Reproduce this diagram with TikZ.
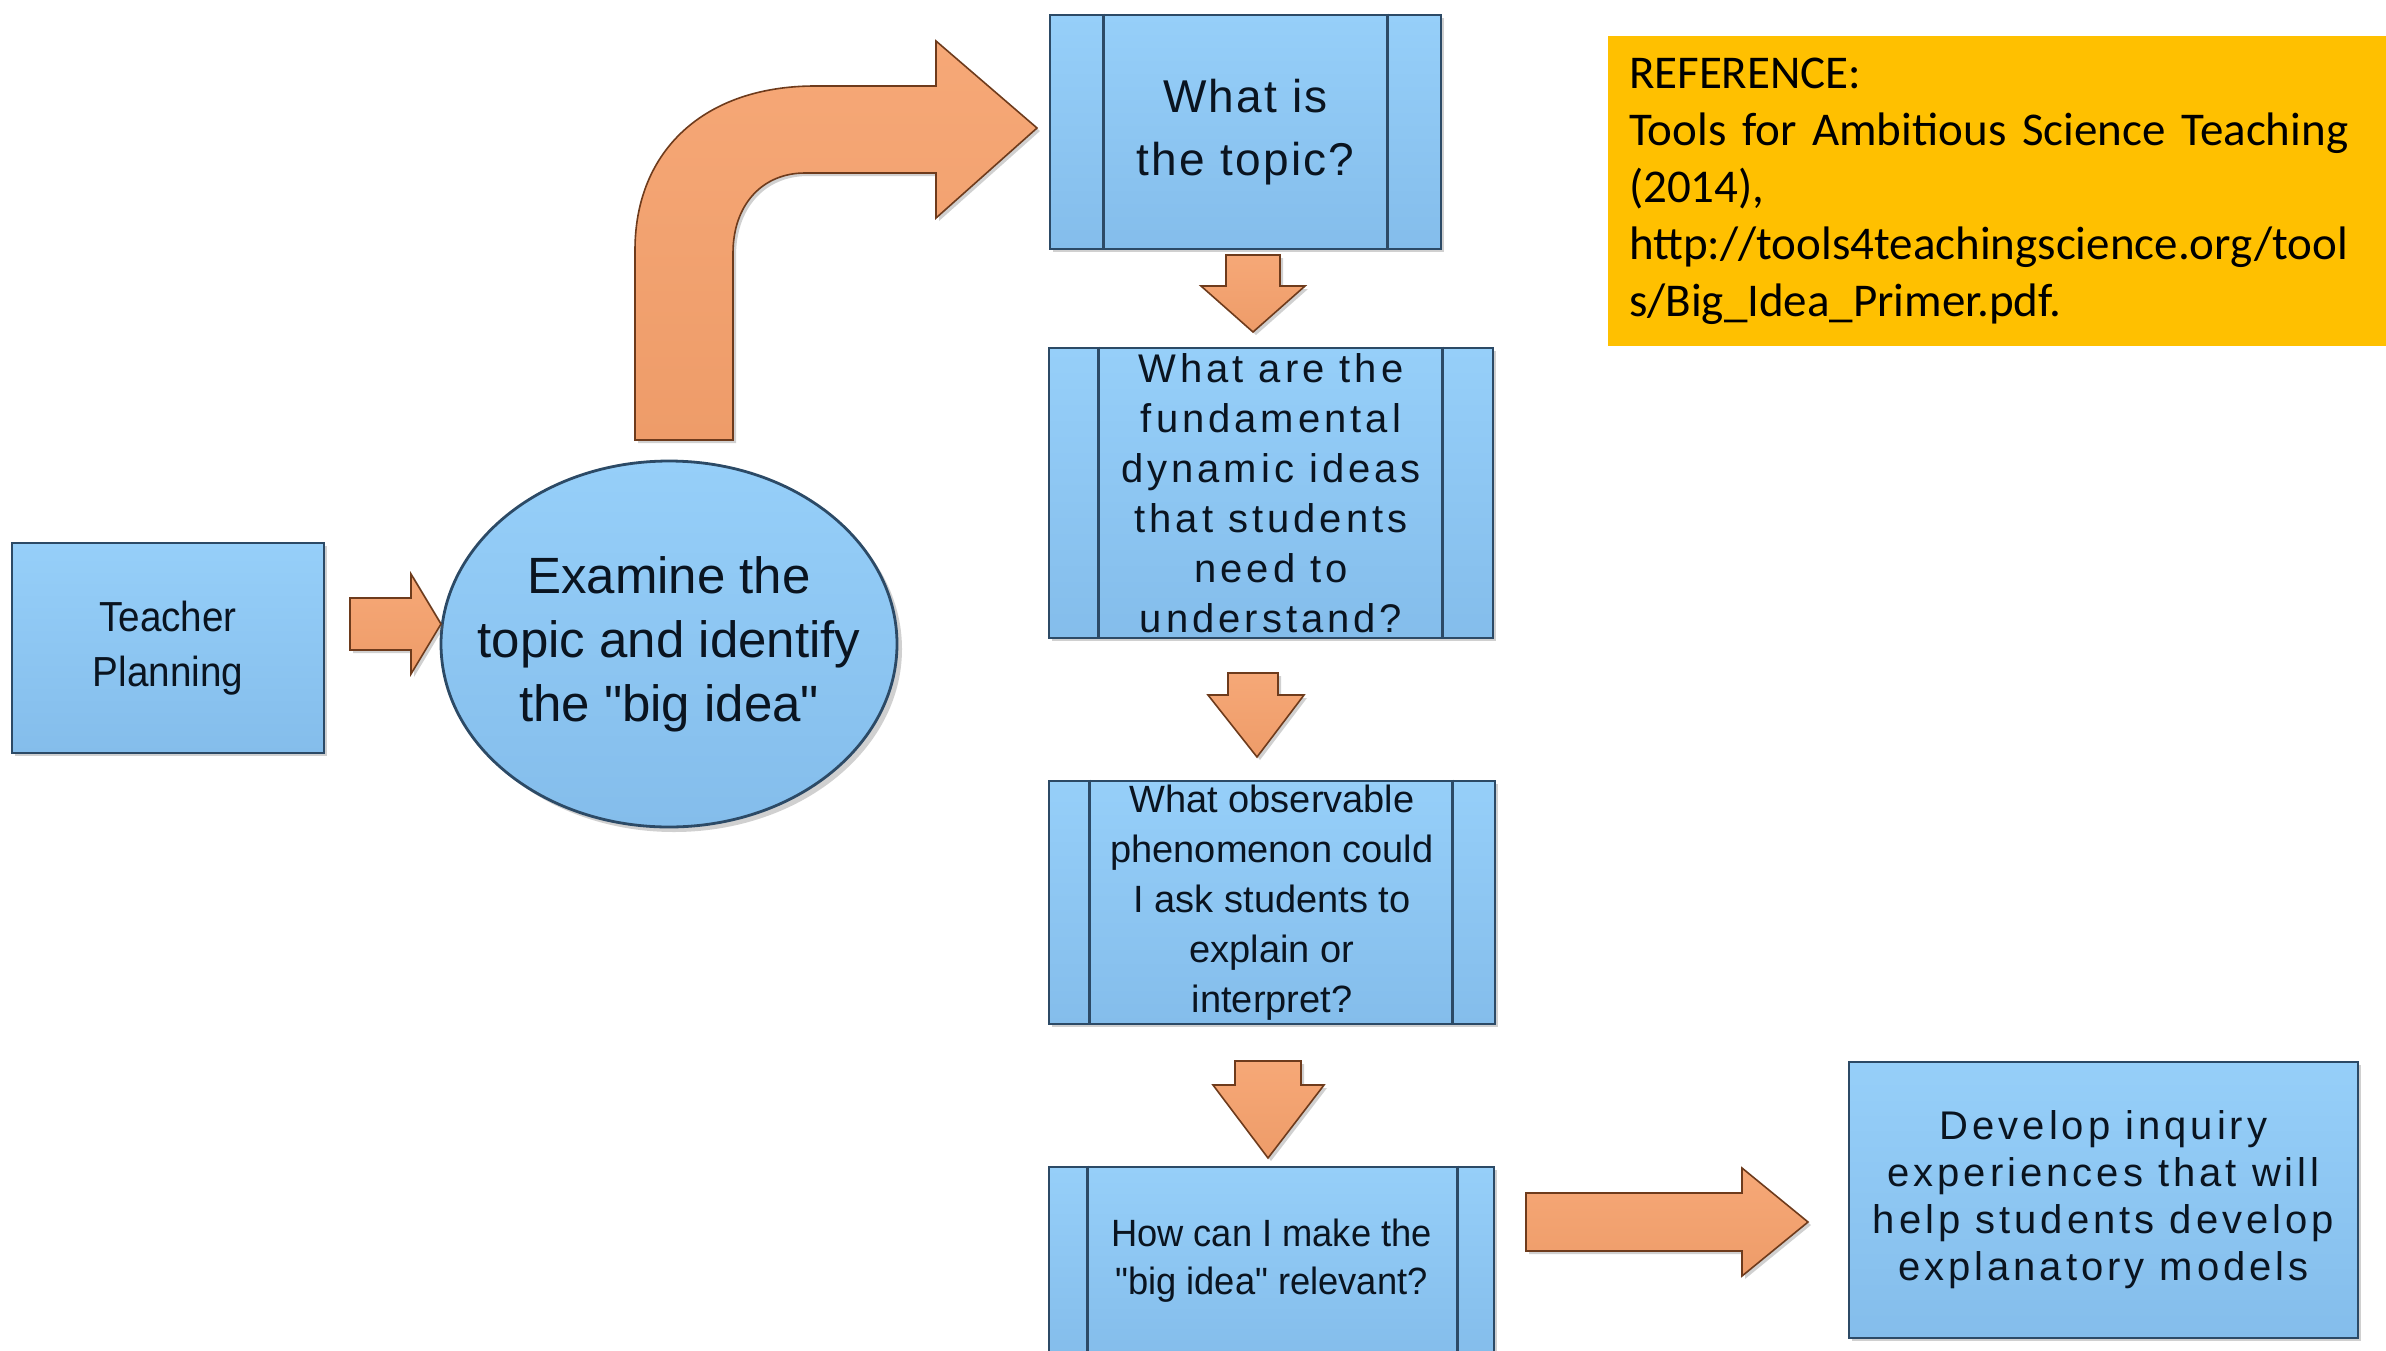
\documentclass[tikz,border=0pt]{standalone}
\usepackage{fontspec}
\setmainfont{Liberation Sans}[Ligatures=TeXOff]
\newfontfamily\calibfont{Carlito}
\newfontfamily\trackA{Liberation Sans}[LetterSpace=5,Ligatures=TeXOff]
\newfontfamily\trackB{Liberation Sans}[LetterSpace=10,Ligatures=TeXOff]
\newfontfamily\narrowA{Liberation Sans}[FakeStretch=0.92,Ligatures=TeXOff]
\newfontfamily\narrowB{Liberation Sans}[FakeStretch=0.955,Ligatures=TeXOff]
\usetikzlibrary{shapes.geometric,shadows}
\definecolor{boxtop}{HTML}{96CFF9}
\definecolor{boxbot}{HTML}{84BDEB}
\definecolor{boxline}{HTML}{2C4A66}
\definecolor{arrtop}{HTML}{F6A877}
\definecolor{arrbot}{HTML}{EE9C69}
\definecolor{arrline}{HTML}{6E3B1C}
\definecolor{refyellow}{HTML}{FFC000}
\definecolor{inktext}{HTML}{0A1420}
\tikzset{
  bluebox/.style={rectangle, draw=boxline, line width=1.4pt, top color=boxtop, bottom color=boxbot,
    inner sep=0pt, align=center, text=inktext,
    drop shadow={shadow xshift=1.5pt, shadow yshift=-1.5pt, opacity=0.3, fill=black!60}},
  blueell/.style={ellipse, draw=boxline, line width=1.4pt, top color=boxtop, bottom color=boxbot,
    inner sep=0pt,
    drop shadow={shadow xshift=2.5pt, shadow yshift=-2.5pt, opacity=0.3, fill=black!60}},
  elltext/.style={align=center, text=inktext, inner sep=0pt, font=\fontsize{25.5}{32}\selectfont},
  sideline/.style={draw=boxline, line width=1.4pt},
  blockarrow/.style={top color=arrtop, bottom color=arrbot, draw=arrline, line width=0.8pt, line join=miter,
    drop shadow={shadow xshift=1.5pt, shadow yshift=-1.5pt, opacity=0.3, fill=black!60}},
}
\begin{document}
\begin{tikzpicture}[x=0.5pt,y=-0.5pt]
\useasboundingbox (0,0) rectangle (2386,1350);
\fill[white] (0,0) rectangle (2386,1350);

% reference box
\node[fill=refyellow, minimum width=389pt, minimum height=155pt, inner sep=0pt, text width=368pt, align=left,
  font=\calibfont\fontsize{23.5}{28.5}\selectfont] (ref) at (1997,191)
  {REFERENCE:\\Tools for Ambitious Science Teaching\\(2014),\\http://tools4teachingscience.org/tool\\s/Big\_Idea\_Primer.pdf.};

% nodes
\node[bluebox, minimum width=156pt, minimum height=105pt, font=\narrowA\fontsize{21}{27.5}\selectfont] (tp) at (168,648) {Teacher\\Planning};
\node[blueell, minimum width=228pt, minimum height=183pt,
  label={[elltext]center:Examine the\\topic and identify\\the "big idea"}] (ex) at (669,644) {};
\node[bluebox, minimum width=195.5pt, minimum height=117pt, font=\trackA\fontsize{23}{31.5}\selectfont] (b1) at (1245.5,132) {What is\\the topic?};
\node[bluebox, minimum width=222pt, minimum height=145pt, font=\trackB\fontsize{20}{25}\selectfont] (b2) at (1271,493) {What are the\\fundamental\\dynamic ideas\\that students\\need to\\understand?};
\node[bluebox, minimum width=223pt, minimum height=121.5pt, font=\fontsize{19}{25}\selectfont] (b3) at (1272,902.5) {What observable\\phenomenon could\\I ask students to\\explain or\\interpret?};
\node[bluebox, minimum width=222.5pt, minimum height=94pt, font=\narrowB\fontsize{19}{24}\selectfont] (b4) at (1271.5,1261) {How can I make the\\"big idea" relevant?};
\node[bluebox, minimum width=254.5pt, minimum height=138pt, font=\trackB\fontsize{20}{23.5}\selectfont] (b5) at (2103.5,1200) {Develop inquiry\\experiences that will\\help students develop\\explanatory models};

% inner side lines of process boxes
\draw[sideline] ([xshift=27.5pt]b1.north west) -- ([xshift=27.5pt]b1.south west);
\draw[sideline] ([xshift=-27.5pt]b1.north east) -- ([xshift=-27.5pt]b1.south east);
\draw[sideline] ([xshift=25.5pt]b2.north west) -- ([xshift=25.5pt]b2.south west);
\draw[sideline] ([xshift=-26pt]b2.north east) -- ([xshift=-26pt]b2.south east);
\draw[sideline] ([xshift=21pt]b3.north west) -- ([xshift=21pt]b3.south west);
\draw[sideline] ([xshift=-22pt]b3.north east) -- ([xshift=-22pt]b3.south east);
\draw[sideline] ([xshift=20pt]b4.north west) -- ([xshift=20pt]b4.south west);
\draw[sideline] ([xshift=-19pt]b4.north east) -- ([xshift=-19pt]b4.south east);

% block arrows
\draw[blockarrow] (350,598) -- (411,598) -- (411,574) -- (441,624) -- (411,674) -- (411,650) -- (350,650) -- cycle;
\draw[blockarrow] (635,440) -- (635,250) .. controls (635,150) and (705,86) .. (815,86) -- (936,86) -- (936,41)
  -- (1037,128) -- (936,218) -- (936,173) -- (805,173) .. controls (762,173) and (733,205) .. (733,253) -- (733,440) -- cycle;
\draw[blockarrow] (1226,255) -- (1280,255) -- (1280,286) -- (1305,286) -- (1253,332) -- (1201,286) -- (1226,286) -- cycle;
\draw[blockarrow] (1228,673) -- (1278,673) -- (1278,695) -- (1304,695) -- (1257,757) -- (1208,695) -- (1228,695) -- cycle;
\draw[blockarrow] (1235,1061) -- (1301,1061) -- (1301,1085) -- (1324,1085) -- (1268,1158) -- (1213,1085) -- (1235,1085) -- cycle;
\draw[blockarrow] (1526,1193) -- (1742,1193) -- (1742,1168) -- (1808,1222) -- (1742,1276) -- (1742,1251) -- (1526,1251) -- cycle;
\end{tikzpicture}
\end{document}
